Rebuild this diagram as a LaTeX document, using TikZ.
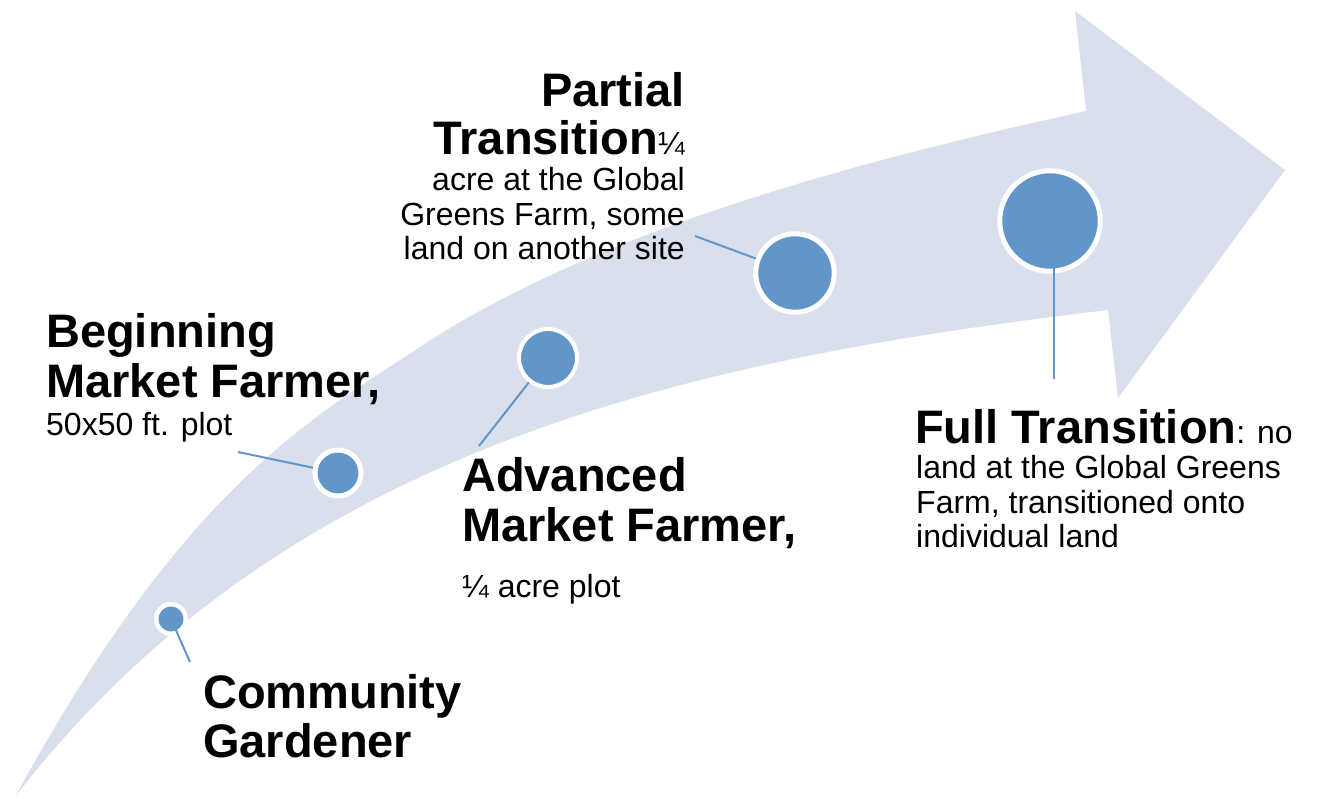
\documentclass[tikz,border=0pt]{standalone}
\usepackage{fontspec}
\setmainfont{Liberation Sans}
\definecolor{bandfill}{RGB}{218,223,237}
\definecolor{dotblue}{RGB}{98,150,201}
\begin{document}
\begin{tikzpicture}[x=1pt,y=-1pt,
  stage/.style={circle,fill=dotblue,draw=white,inner sep=0pt},
  leader/.style={draw=dotblue,line width=2pt},
  headline/.style={inner sep=0pt,anchor=base west,font=\fontsize{47}{49}\selectfont\bfseries},
  bodyline/.style={inner sep=0pt,anchor=base west,font=\fontsize{32}{35}\selectfont},
  headright/.style={headline,anchor=base east},
  bodyright/.style={bodyline,anchor=base east}]
\useasboundingbox (0,0) rectangle (1317,799);

% curved progress arrow
\fill[bandfill]
  (15,797) .. controls (185,486) and (310,419.6) .. (420,347)
           .. controls (600,228.2) and (866,159.4) .. (1086,111)
  -- (1075,11) -- (1285,170) -- (1118,398) -- (1108,310)
  .. controls (708,358) and (290,439.5) .. (15,797)
  -- cycle;

% free ends of the leader lines
\coordinate (e1) at (190,662);
\coordinate (e2) at (238,452);
\coordinate (e3) at (479,446);
\coordinate (e4) at (695,236);
\coordinate (e5) at (1054,379);

% stage markers, growing along the arrow
\node[stage,minimum size=29.5pt,line width=4.5pt] (c1) at (171,619) {};
\node[stage,minimum size=46pt,line width=5pt] (c2) at (338,473) {};
\node[stage,minimum size=58pt,line width=4pt] (c3) at (548,358) {};
\node[stage,minimum size=78.5pt,line width=5pt] (c4) at (795,273) {};
\node[stage,minimum size=100.5pt,line width=5pt] (c5) at (1050,221) {};

% leader lines
\draw[leader] (c1.center) -- (e1);
\draw[leader] (e2) -- (c2);
\draw[leader] (c3) -- (e3);
\draw[leader] (e4) -- (c4);
\draw[leader] ([yshift=-39pt]c5.center -| e5) -- (e5);

% Community Gardener
\node[headline] (t1a) at (203,708) {Community};
\node[headline] (t1b) at (203,757) {Gardener};

% Beginning Market Farmer
\node[headline] (t2a) at (46,348) {Beginning};
\node[headline] (t2b) at (46,397) {Market Farmer,};
\node[bodyline] (t2c) at (46,435) {50x50 ft. plot};

% Advanced Market Farmer
\node[headline] (t3a) at (462,491) {Advanced};
\node[headline] (t3b) at (462,541) {Market Farmer,};
\node[bodyline] (t3c) at (462,597) {¼ acre plot};

% Partial Transition
\node[headright] (t4a) at (685,107) {Partial};
\node[headright] (t4b) at (685,155) {Transition{\mdseries\fontsize{32}{35}\selectfont ¼}};
\node[bodyright] (t4c) at (685,191) {acre at the Global};
\node[bodyright] (t4d) at (685,226) {Greens Farm, some};
\node[bodyright] (t4e) at (685,260) {land on another site};

% Full Transition
\node[headline] (t5a) at (915,443) {Full Transition{\mdseries\fontsize{32}{35}\selectfont: no}};
\node[bodyline] (t5b) at (916,478) {land at the Global Greens};
\node[bodyline] (t5c) at (916,513) {Farm, transitioned onto};
\node[bodyline] (t5d) at (916,547) {individual land};
\end{tikzpicture}
\end{document}
